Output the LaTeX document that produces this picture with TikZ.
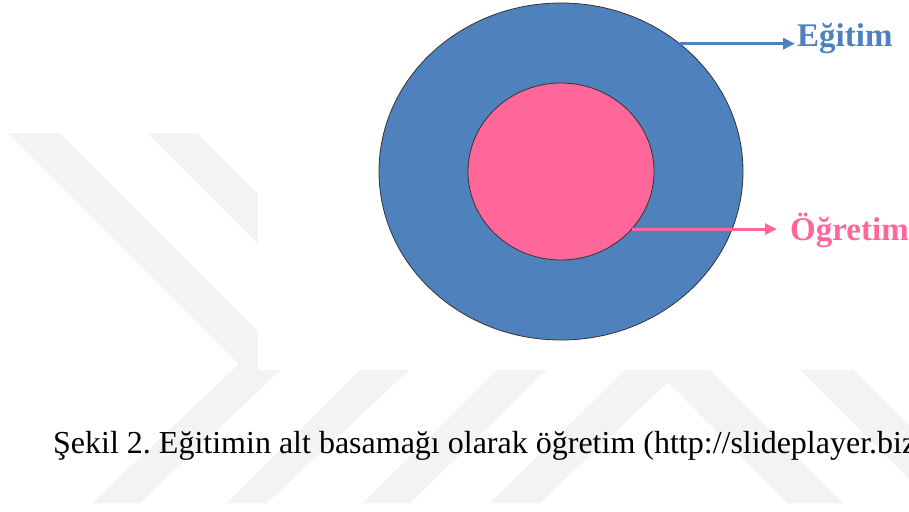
\documentclass[tikz,border=0pt]{standalone}
\usepackage{fontspec}
\setmainfont{Liberation Serif}
\usetikzlibrary{shapes.geometric,arrows.meta}

\definecolor{egitimblue}{RGB}{79,129,189}
\definecolor{ogretimpink}{RGB}{255,102,153}
\definecolor{markgray}{RGB}{243,243,243}

\begin{document}
\frenchspacing
\begin{tikzpicture}[x=1pt,y=-1pt,
  ring/.style={ellipse,draw=black!80,line width=0.8pt,inner sep=0pt},
  pointer/.style={line width=3.2pt,-{Triangle[length=12pt,width=11pt]}},
  tag/.style={font=\fontsize{33}{40}\selectfont\bfseries,inner sep=0pt},
  watermark/.style={fill=markgray}]
 \useasboundingbox (0,0) rectangle (909,511);
 \fill[white] (0,0) rectangle (909,511);
 \fill[watermark] (8,133)--(60,133)--(289,362)--(140,503)--(92,503)--(239,364)--cycle;
 \fill[watermark] (147,133)--(197,133)--(422,358)--(267,503)--(227,503)--(372,358)--cycle;
 \fill[watermark] (497,370)--(547,370)--(410,503)--(363,503)--cycle;
 \fill[watermark] (490,503)--(625,370)--(710,370)--(843,503)--(787,503)--(668,382)--(540,503)--cycle;
 \fill[watermark] (800,370)--(853,370)--(909,426)--(909,479)--cycle;
 \fill[white] (258,0) rectangle (909,370);
 \node[ring,fill=egitimblue,minimum width=364pt,minimum height=337pt] (outer) at (561,171.5) {};
 \node[ring,fill=ogretimpink,minimum width=186pt,minimum height=177pt] (inner) at (561,171.5) {};
 \node[tag,text=egitimblue,anchor=base west] (lblE) at (797,47) {Eğitim};
 \node[tag,text=ogretimpink,anchor=base west] (lblO) at (790,240) {Öğretim};
 \draw[pointer,egitimblue,shorten >=2pt] (outer.47.5) -- (outer.47.5 -| lblE.west);
 \draw[pointer,ogretimpink,shorten >=13pt] (inner.-39.1) -- (inner.-39.1 -| lblO.west);
 \node[anchor=base west,inner sep=0pt,font=\fontsize{32}{38}\selectfont] (caption) at (53,453)
   {Şekil 2. Eğitimin alt basamağı olarak öğretim (http://slideplayer.biz};
\end{tikzpicture}
\end{document}
